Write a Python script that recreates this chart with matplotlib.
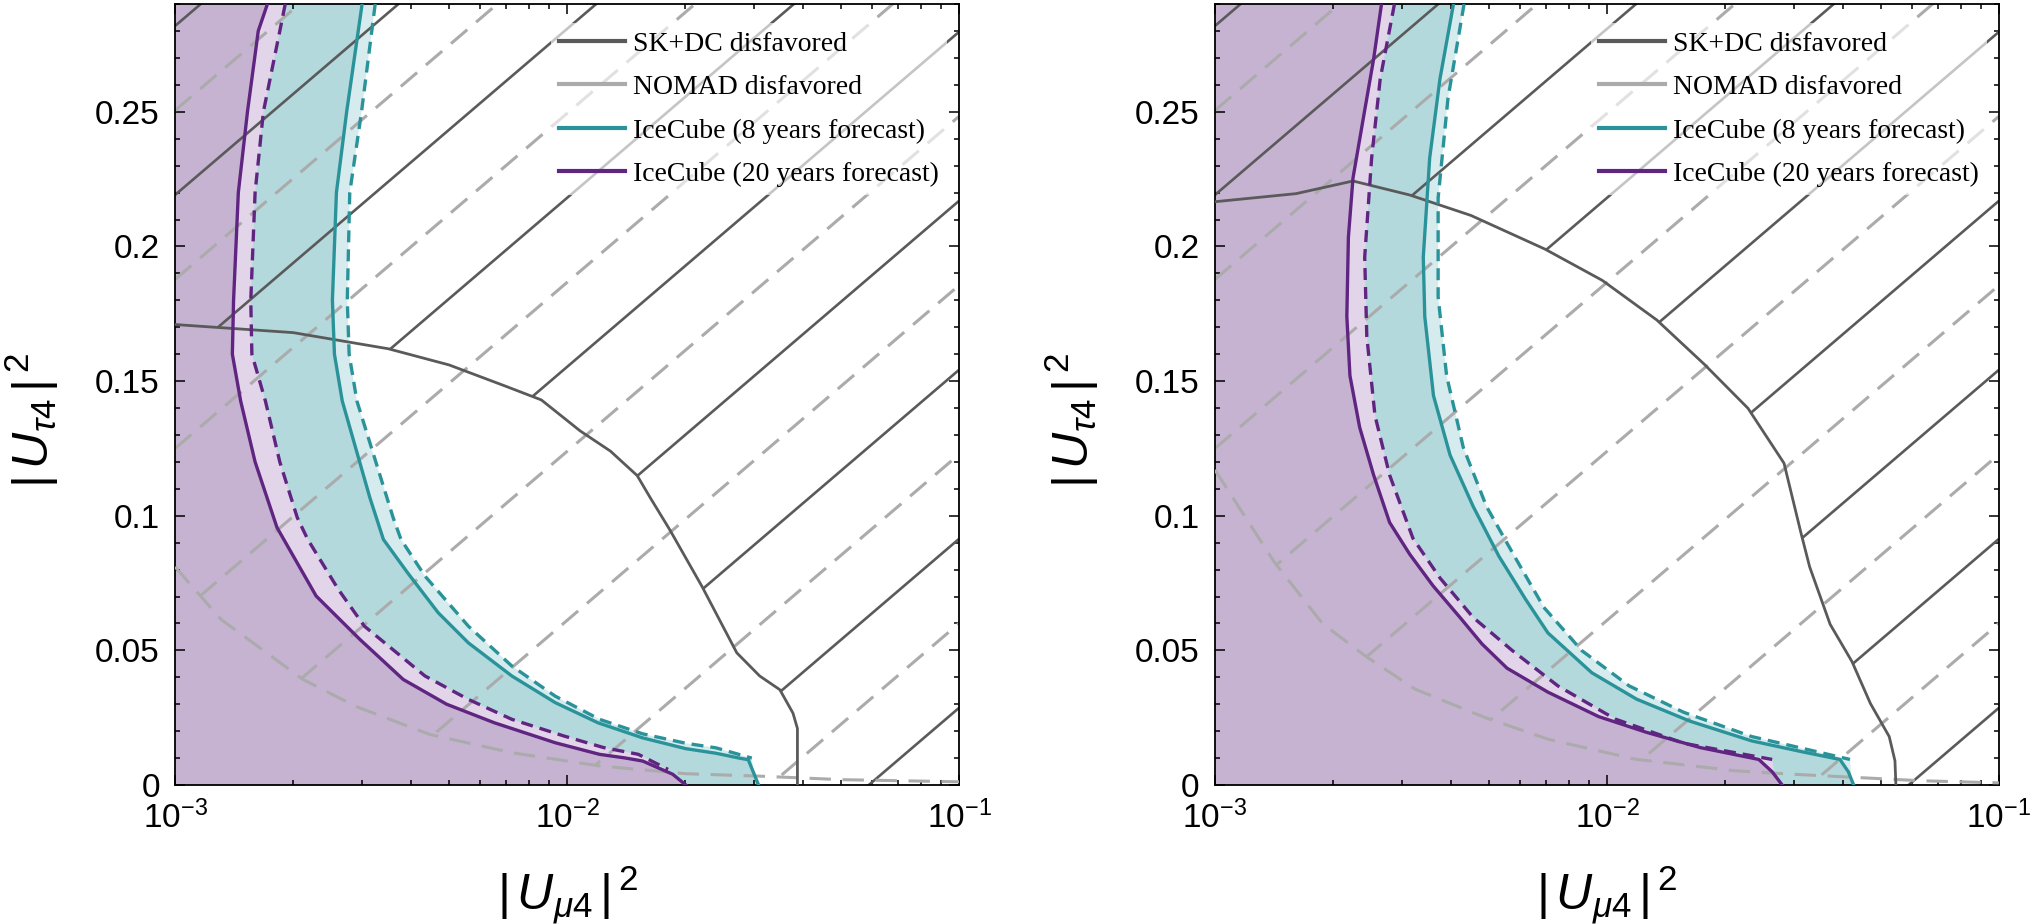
"""Sterile neutrino mixing: IceCube forecasts vs SK+DC and NOMAD exclusions."""

import numpy as np
import matplotlib
matplotlib.use("Agg")
import matplotlib.pyplot as plt
from matplotlib.patches import Polygon
from matplotlib.lines import Line2D

plt.rcParams["font.family"] = ["Liberation Sans", "DejaVu Sans"]
plt.rcParams["mathtext.fontset"] = "custom"
plt.rcParams["mathtext.rm"] = "Liberation Sans"
plt.rcParams["mathtext.it"] = "Liberation Sans:italic"
plt.rcParams["mathtext.bf"] = "Liberation Sans:bold"

# ---------------- left panel data ----------------
L_IC20_X = [1.72e-3, 1.63e-3, 1.53e-3, 1.45e-3, 1.41e-3, 1.40e-3, 1.47e-3, 1.60e-3, 1.82e-3,
            2.29e-3, 2.96e-3, 3.82e-3, 4.93e-3, 6.53e-3, 9.33e-3, 1.21e-2, 1.40e-2, 1.56e-2,
            1.86e-2, 2.01e-2]
L_IC20_Y = [0.29, 0.28, 0.25, 0.22, 0.18, 0.16, 0.1426, 0.12, 0.0956,
            0.0702, 0.0541, 0.0392, 0.0300, 0.0231, 0.0157, 0.0114, 0.0101, 0.0089,
            0.0040, 0.0]
L_IC20D_X = [1.91e-3, 1.85e-3, 1.68e-3, 1.60e-3, 1.56e-3, 1.57e-3, 1.70e-3, 1.85e-3, 2.05e-3,
             2.18e-3, 2.61e-3, 3.04e-3, 4.34e-3, 5.60e-3, 7.23e-3, 9.82e-3, 1.24e-2, 1.52e-2,
             1.81e-2]
L_IC20D_Y = [0.29, 0.28, 0.25, 0.22, 0.18, 0.16, 0.1426, 0.12, 0.0993,
             0.0912, 0.0726, 0.0590, 0.0405, 0.0318, 0.0244, 0.0182, 0.0139, 0.0114,
             0.0058]
L_IC8_X = [3.00e-3, 2.74e-3, 2.58e-3, 2.52e-3, 2.55e-3, 2.67e-3, 3.14e-3, 3.40e-3, 3.92e-3,
           4.69e-3, 5.60e-3, 7.23e-3, 9.33e-3, 1.20e-2, 1.56e-2, 2.01e-2, 2.40e-2, 2.75e-2,
           2.90e-2, 3.08e-2]
L_IC8_Y = [0.29, 0.25, 0.22, 0.18, 0.16, 0.1426, 0.1067, 0.0912, 0.0788,
           0.0640, 0.0528, 0.0405, 0.0306, 0.0231, 0.0175, 0.0135, 0.0118, 0.0100,
           0.0094, 0.0]
L_IC8D_X = [3.24e-3, 2.99e-3, 2.79e-3, 2.75e-3, 2.78e-3, 2.91e-3, 3.60e-3, 3.77e-3, 4.34e-3,
            5.60e-3, 7.23e-3, 9.33e-3, 1.21e-2, 1.56e-2, 2.01e-2, 2.40e-2, 2.96e-2]
L_IC8D_Y = [0.29, 0.25, 0.22, 0.18, 0.16, 0.1426, 0.0993, 0.0912, 0.0776,
            0.0590, 0.0442, 0.0330, 0.0244, 0.0190, 0.0155, 0.0138, 0.0100]
L_SK_X = [1e-3, 2e-3, 3.5e-3, 5e-3, 7e-3, 8.6e-3, 1.08e-2, 1.29e-2, 1.51e-2, 1.63e-2,
          1.83e-2, 2.21e-2, 2.71e-2, 3.10e-2, 3.49e-2, 3.77e-2, 3.87e-2, 3.87e-2]
L_SK_Y = [0.171, 0.168, 0.162, 0.156, 0.148, 0.143, 0.1315, 0.124, 0.1149, 0.1067,
          0.0947, 0.0737, 0.0491, 0.0405, 0.0354, 0.0267, 0.0210, 0.0]
L_NOMAD_X = [1e-3, 1.31e-3, 2.12e-3, 2.88e-3, 4.46e-3, 7.23e-3, 1.21e-2, 2.01e-2, 3.1e-2,
             5e-2, 1e-1]
L_NOMAD_Y = [0.081, 0.0615, 0.0392, 0.0293, 0.0188, 0.0120, 0.0071, 0.0042, 0.0033,
             0.0020, 0.0012]

# ---------------- right panel data ----------------
R_IC20_X = [2.66e-3, 2.54e-3, 2.39e-3, 2.25e-3, 2.19e-3, 2.17e-3, 2.21e-3, 2.34e-3, 2.54e-3,
            2.79e-3, 3.14e-3, 3.60e-3, 4.22e-3, 4.80e-3, 5.56e-3, 7.07e-3, 9.53e-3, 1.26e-2,
            1.73e-2, 2.44e-2, 2.64e-2, 2.80e-2]
R_IC20_Y = [0.290, 0.2696, 0.2475, 0.2254, 0.2034, 0.174, 0.152, 0.1328, 0.1151,
            0.0975, 0.0857, 0.0740, 0.0622, 0.0524, 0.0434, 0.0345, 0.0254, 0.0196,
            0.0139, 0.0095, 0.0049, 0.0]
R_IC20D_X = [2.87e-3, 2.64e-3, 2.51e-3, 2.41e-3, 2.44e-3, 2.56e-3, 2.79e-3, 3.20e-3, 3.75e-3,
             4.56e-3, 5.74e-3, 7.50e-3, 1.05e-2, 1.57e-2, 2.64e-2]
R_IC20D_Y = [0.290, 0.2622, 0.2328, 0.196, 0.1666, 0.1372, 0.1151, 0.0916, 0.0769,
             0.0622, 0.0499, 0.0368, 0.0245, 0.0155, 0.0095]
R_IC8_X = [4.06e-3, 3.75e-3, 3.53e-3, 3.40e-3, 3.43e-3, 3.61e-3, 3.98e-3, 4.56e-3, 5.30e-3,
           6.20e-3, 7.07e-3, 9.15e-3, 1.19e-2, 1.63e-2, 2.34e-2, 3.16e-2, 3.93e-2, 4.13e-2,
           4.26e-2]
R_IC8_Y = [0.290, 0.2622, 0.2328, 0.196, 0.174, 0.1446, 0.1225, 0.1034, 0.085,
           0.069, 0.0565, 0.0417, 0.0319, 0.0237, 0.0164, 0.0123, 0.0095, 0.0049,
           0.0]
R_IC8D_X = [4.32e-3, 3.93e-3, 3.71e-3, 3.71e-3, 3.90e-3, 4.30e-3, 4.93e-3, 5.77e-3, 6.90e-3,
            8.63e-3, 1.14e-2, 1.57e-2, 2.34e-2, 3.16e-2, 4.17e-2]
R_IC8D_Y = [0.290, 0.2549, 0.218, 0.1813, 0.1519, 0.1254, 0.1034, 0.0857, 0.066,
            0.0499, 0.0368, 0.027, 0.018, 0.0136, 0.0095]
R_SK_X = [1e-3, 1.61e-3, 2.25e-3, 3.14e-3, 4.5e-3, 6.95e-3, 9.73e-3, 1.34e-2, 1.77e-2,
          2.29e-2, 2.83e-2, 3.13e-2, 3.29e-2, 3.71e-2, 4.22e-2, 4.70e-2, 5.25e-2, 5.43e-2,
          5.46e-2]
R_SK_Y = [0.2166, 0.2196, 0.2243, 0.2191, 0.2115, 0.1990, 0.1874, 0.1727, 0.1563,
          0.1399, 0.1195, 0.0933, 0.081, 0.0597, 0.0458, 0.0303, 0.018, 0.009,
          0.0]
R_NOMAD_X = [1e-3, 1.42e-3, 1.88e-3, 2.42e-3, 3.24e-3, 4.9e-3, 7.08e-3, 1.18e-2, 2.12e-2,
             2.9e-2, 6.3e-2, 1e-1]
R_NOMAD_Y = [0.117, 0.0826, 0.060, 0.0479, 0.0356, 0.025, 0.017, 0.0096, 0.0053,
             0.0041, 0.0016, 0.0008]

LEGEND_LABELS = ["SK+DC disfavored", "NOMAD disfavored",
                 "IceCube (8 years forecast)", "IceCube (20 years forecast)"]
Y_TICKS = [0, 0.05, 0.1, 0.15, 0.2, 0.25]

# ---------------- style ----------------
C_PURPLE = "#5f2580"
C_TEAL = "#2a9399"
C_PURPLE_FILL = "#c6b3d2"
C_PURPLE_LIGHT = "#e2d5e9"
C_TEAL_FILL = "#b3d9dd"
C_TEAL_LIGHT = "#d6ebee"
C_SK = "#5a5a5a"
C_NOMAD = "#ababab"

XLIM = (1e-3, 1e-1)
YLIM = (0.0, 0.29)
X_LO, X_HI, Y_LO, Y_HI = 8e-4, 0.12, -0.01, 0.30

HATCH_SLOPE = 0.858
HATCH_STEP = 0.2164
HATCH_PHASE = 0.972

TICK_FS = 24
LABEL_FS = 36
LEGEND_FS = 20

CURVE_LW = 2.4
CURVE_DASH = (3.6, 2.1)
GRAY_DASH = (7.0, 3.8)


def fill_under(ax, xs, ys, color, close_x=None):
    """Fill from the left edge up to a curve x(y)."""
    if close_x is None:
        close_x = xs[-1]
    verts = [(X_LO, Y_HI), (xs[0], Y_HI)] + list(zip(xs, ys)) + [(close_x, Y_LO), (X_LO, Y_LO)]
    ax.add_patch(Polygon(verts, closed=True, facecolor=color, edgecolor="none", zorder=1))


def region_patch(ax, xs, ys):
    """Invisible patch of the area above/right of a boundary curve, used for clipping."""
    verts = list(zip(xs, ys)) + [(X_HI, min(ys[-1], Y_LO)), (X_HI, Y_HI), (X_LO, Y_HI), (X_LO, ys[0])]
    patch = Polygon(verts, closed=True, facecolor="none", edgecolor="none", transform=ax.transData)
    ax.add_patch(patch)
    return patch


def hatch(ax, patch, phase, color, lw, dashes=None):
    """Parallel diagonal lines (axes coordinates) clipped to a region."""
    for k in range(-10, 3):
        y0 = phase + k * HATCH_STEP
        line, = ax.plot([0, 1], [y0, y0 + HATCH_SLOPE], transform=ax.transAxes,
                        color=color, lw=lw, zorder=2, solid_capstyle="butt")
        if dashes is not None:
            line.set_dashes(dashes)
        line.set_clip_path(patch)


def draw_panel(ax, ic20, ic20d, ic8, ic8d, sk, nomad):
    fill_under(ax, *ic8d, C_TEAL_LIGHT, close_x=ic8[0][-1])
    fill_under(ax, *ic8, C_TEAL_FILL)
    fill_under(ax, *ic20d, C_PURPLE_LIGHT, close_x=ic20[0][-1])
    fill_under(ax, *ic20, C_PURPLE_FILL)

    sk_patch = region_patch(ax, *sk)
    nomad_patch = region_patch(ax, *nomad)
    hatch(ax, sk_patch, HATCH_PHASE, C_SK, 1.9)
    hatch(ax, nomad_patch, HATCH_PHASE - HATCH_STEP / 2, C_NOMAD, 2.2, dashes=GRAY_DASH)

    ax.plot(*nomad, color=C_NOMAD, lw=2.2, dashes=GRAY_DASH, zorder=3)
    ax.plot(*sk, color=C_SK, lw=2.0, zorder=3)
    ax.plot(*ic8d, color=C_TEAL, lw=CURVE_LW, dashes=CURVE_DASH, zorder=4)
    ax.plot(*ic8, color=C_TEAL, lw=CURVE_LW, zorder=4)
    ax.plot(*ic20d, color=C_PURPLE, lw=CURVE_LW, dashes=CURVE_DASH, zorder=4)
    ax.plot(*ic20, color=C_PURPLE, lw=CURVE_LW, zorder=4)

    ax.set_xscale("log")
    ax.set_xlim(*XLIM)
    ax.set_ylim(*YLIM)
    ax.set_yticks(Y_TICKS)
    ax.set_yticklabels([f"{t:g}" for t in Y_TICKS])
    ax.yaxis.set_minor_locator(matplotlib.ticker.MultipleLocator(0.01))
    ax.tick_params(which="both", direction="in", top=True, right=True,
                   labelsize=TICK_FS, width=1.1, pad=11)
    ax.tick_params(which="major", length=7.5)
    ax.tick_params(which="minor", length=3.5)
    for sp in ax.spines.values():
        sp.set_linewidth(1.3)

    ax.set_xlabel(r"$|\,U_{\mu 4}\,|^{\,2}$", fontsize=LABEL_FS)
    ax.set_ylabel(r"$|\,U_{\tau 4}\,|^{\,2}$", fontsize=LABEL_FS)
    ax.xaxis.set_label_coords(0.5, -0.100, transform=ax.transAxes)
    ax.xaxis.label.set_va("top")
    ax.yaxis.set_label_coords(-0.145, 0.467, transform=ax.transAxes)

    handles = [Line2D([], [], color=c, lw=3) for c in (C_SK, C_NOMAD, C_TEAL, C_PURPLE)]
    leg = ax.legend(handles, LEGEND_LABELS, loc="upper right", bbox_to_anchor=(0.985, 0.976),
                    prop={"family": "Liberation Serif", "size": LEGEND_FS},
                    handlelength=2.35, handletextpad=0.3, labelspacing=0.65,
                    borderpad=0.3, borderaxespad=0.0, framealpha=0.65, fancybox=False)
    leg.get_frame().set_edgecolor("none")
    leg.set_zorder(6)


fig = plt.figure(figsize=(20.31, 9.24), dpi=100)
ax_l = fig.add_axes([0.0862, 0.1504, 0.3860, 0.8452])
ax_r = fig.add_axes([0.5982, 0.1504, 0.3860, 0.8452])

draw_panel(ax_l, (L_IC20_X, L_IC20_Y), (L_IC20D_X, L_IC20D_Y), (L_IC8_X, L_IC8_Y),
           (L_IC8D_X, L_IC8D_Y), (L_SK_X, L_SK_Y), (L_NOMAD_X, L_NOMAD_Y))
draw_panel(ax_r, (R_IC20_X, R_IC20_Y), (R_IC20D_X, R_IC20D_Y), (R_IC8_X, R_IC8_Y),
           (R_IC8D_X, R_IC8D_Y), (R_SK_X, R_SK_Y), (R_NOMAD_X, R_NOMAD_Y))

fig.savefig("out.png", dpi=100)
